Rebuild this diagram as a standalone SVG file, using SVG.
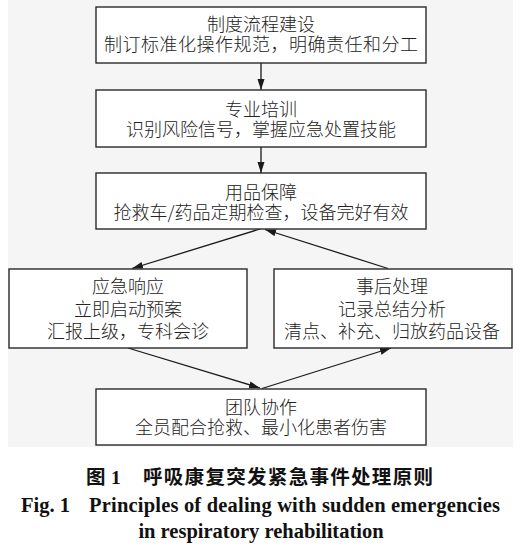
<svg xmlns="http://www.w3.org/2000/svg" width="525" height="546" viewBox="0 0 525 546">
<style>
.box{fill:#ffffff;stroke:#2a2a2a;stroke-width:1.4}
.t{font-family:"Noto Sans CJK SC","Noto Sans",sans-serif;font-size:18px;fill:#222;text-anchor:middle;font-weight:300}
.conn{stroke:#1a1a1a;stroke-width:1.3;fill:none;marker-end:url(#ah)}
.capc{font-family:"Noto Sans CJK SC",sans-serif;font-weight:700;font-size:19.5px;fill:#111}
.cape{font-family:"Liberation Serif","Times New Roman",serif;font-weight:700;font-size:20.5px;fill:#111}
</style>
<defs>
<marker id="ah" markerUnits="userSpaceOnUse" markerWidth="12" markerHeight="8" refX="11" refY="3.5" orient="auto">
<path d="M0,0 L11,3.5 L0,7 z" fill="#1a1a1a"/>
</marker>
</defs>
<rect x="8" y="0" width="505" height="447" fill="#f5f5f5"/>
<g id="connectors">
<line class="conn" x1="261" y1="63" x2="261" y2="90"/>
<line class="conn" x1="261" y1="147" x2="261" y2="173"/>
<line class="conn" x1="260" y1="229" x2="132" y2="268.5"/>
<line class="conn" x1="388" y1="268.5" x2="265" y2="229.5"/>
<line class="conn" x1="128" y1="348" x2="260" y2="388"/>
<line class="conn" x1="262" y1="388.5" x2="391" y2="348"/>
</g>
<g id="node1">
<rect class="box" x="96" y="7" width="330" height="56"/>
<text class="t" x="261" y="30.5">制度流程建设</text>
<text class="t" x="261" y="50.5" textLength="314" lengthAdjust="spacing">制订标准化操作规范，明确责任和分工</text>
</g>
<g id="node2">
<rect class="box" x="96" y="90" width="330" height="57"/>
<text class="t" x="261" y="115.5">专业培训</text>
<text class="t" x="261" y="135.5">识别风险信号，掌握应急处置技能</text>
</g>
<g id="node3">
<rect class="box" x="96" y="173" width="330" height="56"/>
<text class="t" x="261" y="198.5">用品保障</text>
<text class="t" x="261" y="219">抢救车/药品定期检查，设备完好有效</text>
</g>
<g id="node4">
<rect class="box" x="9" y="269" width="238" height="79"/>
<text class="t" x="128" y="293">应急响应</text>
<text class="t" x="128" y="315.5">立即启动预案</text>
<text class="t" x="128" y="338">汇报上级，专科会诊</text>
</g>
<g id="node5">
<rect class="box" x="274" y="269" width="238" height="79"/>
<text class="t" x="392" y="293">事后处理</text>
<text class="t" x="392" y="315.5">记录总结分析</text>
<text class="t" x="392" y="338">清点、补充、归放药品设备</text>
</g>
<g id="node6">
<rect class="box" x="96" y="389" width="330" height="56"/>
<text class="t" x="261" y="413.5">团队协作</text>
<text class="t" x="261" y="434">全员配合抢救、最小化患者伤害</text>
</g>
<g id="caption">
<text class="capc" x="86" y="484">图</text>
<text class="cape" x="111" y="484" style="font-size:19.5px">1</text>
<text class="capc" x="143" y="484" textLength="290" lengthAdjust="spacing">呼吸康复突发紧急事件处理原则</text>
<text class="cape" x="21" y="512">Fig. 1</text>
<text class="cape" x="89" y="512" textLength="411" lengthAdjust="spacing">Principles of dealing with sudden emergencies</text>
<text class="cape" x="261" y="538" text-anchor="middle">in respiratory rehabilitation</text>
</g>
</svg>
